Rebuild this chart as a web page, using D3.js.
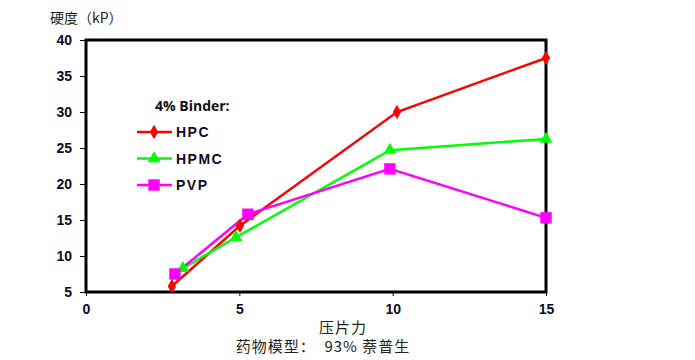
<!DOCTYPE html>
<html><head><meta charset="utf-8">
<script src="https://cdn.jsdelivr.net/npm/d3@7"></script>
<style>body{margin:0;background:#fff}svg{display:block}</style>
</head><body><svg id="c" width="695" height="360"></svg>
<script>
const seriesNames = ["HPC", "HPMC", "PVP"];
const seriesColors = ["#ff0000", "#00ff00", "#ff00ff"];
const hpcX = [2.8, 5.02, 10.14, 15];
const hpcY = [5.8, 14.2, 30.0, 37.5];
const hpmcX = [3.16, 4.89, 9.91, 15];
const hpmcY = [8.3, 12.6, 24.7, 26.25];
const pvpX = [2.9, 5.28, 9.91, 15];
const pvpY = [7.5, 15.8, 22.1, 15.3];
const xTicks = [0, 5, 10, 15];
const yTicks = [5, 10, 15, 20, 25, 30, 35, 40];
const yTitle = "硬度（kP）";
const xTitle = "压片力";
const subTitle = "药物模型：  93% 萘普生";
const legendTitle = "4% Binder:";

const svg = d3.select("#c");
const L = 86, R = 546, T = 40, B = 292;
const x = d3.scaleLinear().domain([0, 15]).range([L, R]);
const y = d3.scaleLinear().domain([5, 40]).range([B, T]);

const series = [
  {name: seriesNames[0], color: seriesColors[0], xs: hpcX, ys: hpcY, sym: d3.symbolDiamond, size: 60},
  {name: seriesNames[1], color: seriesColors[1], xs: hpmcX, ys: hpmcY, sym: d3.symbolTriangle, size: 70},
  {name: seriesNames[2], color: seriesColors[2], xs: pvpX, ys: pvpY, sym: d3.symbolSquare, size: 130}
];

// axes
const yAxis = d3.axisLeft(y).tickValues(yTicks).tickSize(6).tickPadding(8);
const gy = svg.append("g").attr("transform", `translate(${L},0)`).call(yAxis);
gy.select(".domain").remove();
gy.selectAll("line").attr("stroke", "#000").attr("stroke-width", 1);
gy.selectAll("text").attr("font-family", "Arial, 'Liberation Sans', sans-serif").attr("font-weight", "bold").attr("font-size", 14).attr("fill", "#0a0a2a").attr("dy", "0.35em");

const xAxis = d3.axisBottom(x).tickValues(xTicks).tickSize(4).tickPadding(8);
const gx = svg.append("g").attr("transform", `translate(0,${B})`).call(xAxis);
gx.select(".domain").remove();
gx.selectAll("line").attr("stroke", "#000").attr("stroke-width", 1);
gx.selectAll("text").attr("font-family", "Arial, 'Liberation Sans', sans-serif").attr("font-weight", "bold").attr("font-size", 14).attr("fill", "#0a0a2a");

// frame
svg.append("rect").attr("x", L).attr("y", T).attr("width", R - L).attr("height", B - T)
  .attr("fill", "none").attr("stroke", "#000").attr("stroke-width", 3);

// lines
const line = d3.line().x(d => x(d[0])).y(d => y(d[1]));
series.forEach(s => {
  const pts = s.xs.map((v, i) => [v, s.ys[i]]);
  svg.append("path").datum(pts).attr("d", line).attr("fill", "none")
    .attr("stroke", s.color).attr("stroke-width", 2.5);
});
series.forEach(s => {
  const pts = s.xs.map((v, i) => [v, s.ys[i]]);
  svg.selectAll(null).data(pts).enter().append("path")
    .attr("d", d3.symbol().type(s.sym).size(s.size))
    .attr("transform", d => `translate(${x(d[0])},${y(d[1])})`)
    .attr("fill", s.color);
});

// legend
svg.append("text").attr("x", 155).attr("y", 111).text(legendTitle)
  .attr("font-family", "'Open Sans', Calibri, sans-serif").attr("font-weight", "bold").attr("font-size", 14).attr("fill", "#111");
series.forEach((s, i) => {
  const ly = 132 + i * 26.5;
  svg.append("line").attr("x1", 137).attr("x2", 172).attr("y1", ly).attr("y2", ly)
    .attr("stroke", s.color).attr("stroke-width", 2.5);
  svg.append("path").attr("d", d3.symbol().type(s.sym).size(s.size))
    .attr("transform", `translate(154,${ly})`).attr("fill", s.color);
  svg.append("text").attr("x", 176).attr("y", ly + 5).text(s.name)
    .attr("font-family", "Arial, 'Liberation Sans', sans-serif").attr("font-weight", "bold")
    .attr("font-size", 14).attr("letter-spacing", 1.5).attr("fill", "#0a0a2a");
});

// titles
svg.append("text").attr("x", 50).attr("y", 23).text(yTitle)
  .attr("font-family", "'Noto Sans CJK SC', sans-serif").attr("font-size", 14).attr("fill", "#222");
svg.append("text").attr("x", 343).attr("y", 333).attr("text-anchor", "middle").text(xTitle)
  .attr("font-family", "'Noto Sans CJK SC', sans-serif").attr("font-size", 15).attr("letter-spacing", 1).attr("fill", "#222");
svg.append("text").attr("x", 323).attr("y", 352).attr("text-anchor", "middle").text(subTitle)
  .attr("xml:space", "preserve").style("white-space", "pre")
  .attr("font-family", "'Noto Sans CJK SC', sans-serif").attr("font-size", 15).attr("letter-spacing", 1).attr("fill", "#222");
</script></body></html>
